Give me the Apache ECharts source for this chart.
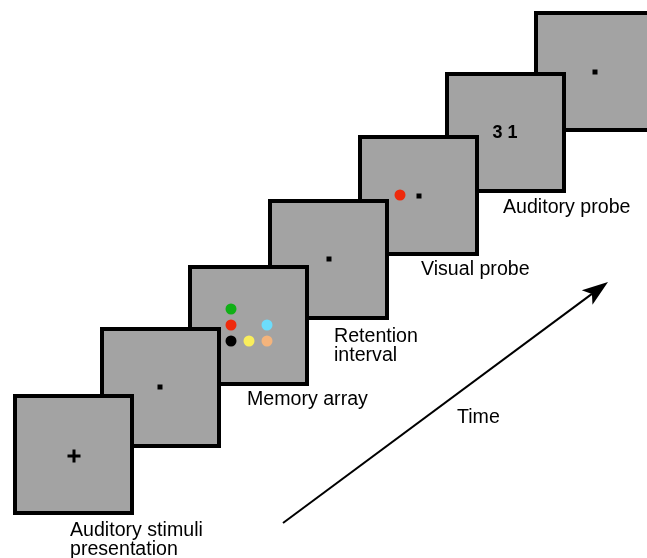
<!DOCTYPE html>
<html><head><meta charset="utf-8">
<script src="https://cdn.jsdelivr.net/npm/echarts@6/dist/echarts.min.js"></script>
<style>html,body{margin:0;padding:0;background:#fff}#c{width:647px;height:558px}</style>
</head><body><div id="c"></div>
<script>
// Stage panels (top-left corner, diagram units = px on a 647x558 canvas)
const stageNames = ['Auditory stimuli presentation','Fixation','Memory array','Retention interval','Visual probe','Auditory probe','Fixation'];
const stageX = [13, 100, 188, 268, 358, 445, 534];
const stageY = [394, 327, 265, 199, 135, 72, 11];
const panelSize = 121;
// Fixation squares
const fixX = [160, 329, 419, 595];
const fixY = [387, 259, 196, 72];
// Fixation cross
const crossX = [74];
const crossY = [456];
// Coloured memory items (memory array) and probe item
const dotX = [231, 231, 267, 231, 249, 267, 400];
const dotY = [309, 325, 325, 341, 341, 341, 195];
const dotColors = ['#10b016', '#ef2a0c', '#6cdcfb', '#000000', '#f9ee5c', '#f4b47c', '#ef2a0c'];
// Labels (y = middle of first line)
const labelText = ['Auditory stimuli\npresentation', 'Memory array', 'Retention\ninterval', 'Visual probe', 'Auditory probe', 'Time'];
const labelX = [70, 247, 334, 421, 503, 457];
const labelY = [531, 400, 337, 270, 208, 418];
// Auditory probe digits
const digitText = ['3 1'];
const digitX = [505];
const digitY = [133];
// Time arrow
const arrowFrom = [283, 523];
const arrowTo = [608, 282];

const FONT = '"Liberation Sans", Arial, Helvetica, sans-serif';
const FS = 19.6, LH = 19;
const chart = echarts.init(document.getElementById('c'), null, {renderer: 'canvas'});

const panelData = stageX.map((x, i) => [x, stageY[i], i]).reverse();

chart.setOption({
  animation: false,
  backgroundColor: '#ffffff',
  grid: {left: 0, right: 0, top: 0, bottom: 0},
  xAxis: {type: 'value', min: 0, max: 647, show: false},
  yAxis: {type: 'value', min: 0, max: 558, inverse: true, show: false},
  series: [
    {
      type: 'custom', clip: false, z: 1,
      data: panelData,
      renderItem: function (params, api) {
        const p0 = api.coord([api.value(0), api.value(1)]);
        const p1 = api.coord([api.value(0) + panelSize, api.value(1) + panelSize]);
        return {
          type: 'rect',
          shape: {x: p0[0] + 2, y: p0[1] + 2, width: p1[0] - p0[0] - 4, height: p1[1] - p0[1] - 4},
          style: {fill: '#a3a3a3', stroke: '#000', lineWidth: 4},
          z2: 10 - api.value(2)
        };
      }
    },
    {
      type: 'scatter', z: 3, silent: true,
      symbol: 'rect', symbolSize: 5,
      itemStyle: {color: '#000', opacity: 1},
      data: fixX.map((x, i) => [x, fixY[i]])
    },
    {
      type: 'scatter', z: 3, silent: true,
      symbol: 'path://M5,0h3v13h-3z M0,5h13v3h-13z', symbolSize: 13,
      itemStyle: {color: '#000', opacity: 1},
      data: crossX.map((x, i) => [x, crossY[i]])
    },
    {
      type: 'scatter', z: 3, silent: true,
      symbolSize: 11,
      data: dotX.map((x, i) => ({value: [x, dotY[i]], itemStyle: {color: dotColors[i], opacity: 1}}))
    },
    {
      type: 'custom', clip: false, z: 4, silent: true,
      data: labelText.map((t, i) => [labelX[i], labelY[i], i]),
      renderItem: function (params, api) {
        const p = api.coord([api.value(0), api.value(1)]);
        return {
          type: 'text', x: p[0], y: p[1] - LH / 2,
          style: {text: labelText[api.value(2)], fill: '#000', font: FS + 'px ' + FONT, lineHeight: LH, align: 'left', verticalAlign: 'top'}
        };
      }
    },
    {
      type: 'custom', clip: false, z: 4, silent: true,
      data: digitText.map((t, i) => [digitX[i], digitY[i], i]),
      renderItem: function (params, api) {
        const p = api.coord([api.value(0), api.value(1)]);
        return {
          type: 'text', x: p[0], y: p[1],
          style: {text: digitText[api.value(2)], fill: '#000', font: 'bold 18px ' + FONT, align: 'center', verticalAlign: 'middle'}
        };
      }
    },
    {
      type: 'custom', clip: false, z: 4, silent: true,
      data: [[arrowFrom[0], arrowFrom[1], arrowTo[0], arrowTo[1]]],
      renderItem: function (params, api) {
        const a = api.coord([api.value(0), api.value(1)]);
        const b = api.coord([api.value(2), api.value(3)]);
        const dx = b[0] - a[0], dy = b[1] - a[1];
        const len = Math.sqrt(dx * dx + dy * dy);
        const ux = dx / len, uy = dy / len, nx = -uy, ny = ux;
        const L = 26, W = 9, notch = 20;
        const back = [b[0] - ux * L, b[1] - uy * L];
        const mid = [b[0] - ux * notch, b[1] - uy * notch];
        return {
          type: 'group',
          children: [
            {type: 'line', shape: {x1: a[0], y1: a[1], x2: mid[0], y2: mid[1]}, style: {stroke: '#000', lineWidth: 2}},
            {type: 'polygon', shape: {points: [b, [back[0] + nx * W, back[1] + ny * W], mid, [back[0] - nx * W, back[1] - ny * W]]}, style: {fill: '#000'}}
          ]
        };
      }
    }
  ]
});
</script>
</body></html>
